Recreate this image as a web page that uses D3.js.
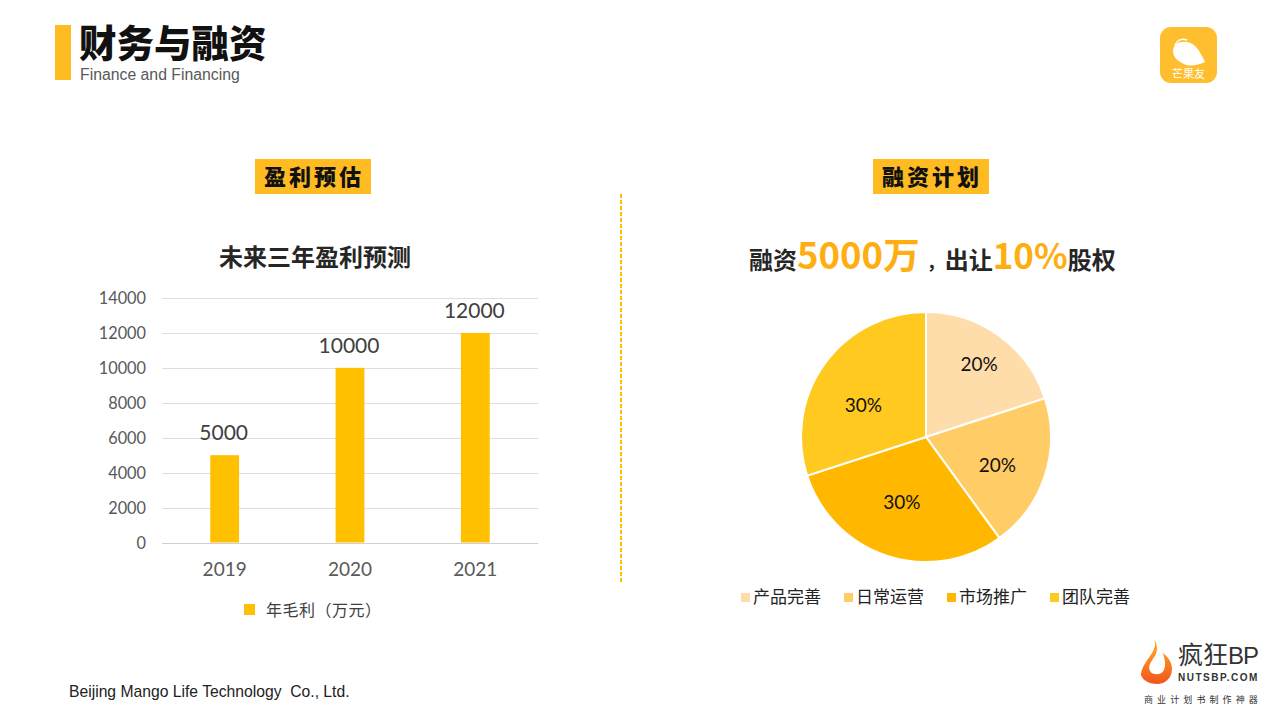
<!DOCTYPE html>
<html>
<head>
<meta charset="utf-8">
<script src="https://cdn.jsdelivr.net/npm/d3@7"></script>
<style>
  html, body { margin: 0; background: #fff; }
  svg { display: block; }
  text { font-family: "Noto Sans CJK SC", sans-serif; }
  .num { font-family: Lato, "Noto Sans CJK SC", sans-serif; }
  .latin { font-family: "Liberation Sans", sans-serif; }
</style>
</head>
<body>
<svg id="chart" width="1280" height="720"></svg>
<script>
const years = ['2019', '2020', '2021'];
const profit = [5000, 10000, 12000];
const profitTicks = [0, 2000, 4000, 6000, 8000, 10000, 12000, 14000];
const profitLegend = '年毛利（万元）';

const useNames = ['产品完善', '日常运营', '市场推广', '团队完善'];
const useShares = [20, 20, 30, 30];
const useColors = ['#FFDDAA', '#FFCC66', '#FFB700', '#FFC91F'];

const accent = '#FFBB22';
const svg = d3.select('#chart');

function label(g, x, y, str, size, fill, weight, anchor, cls) {
  return g.append('text')
    .attr('x', x).attr('y', y)
    .attr('font-size', size)
    .attr('fill', fill)
    .attr('font-weight', weight || 400)
    .attr('text-anchor', anchor || 'start')
    .attr('class', cls || null)
    .text(str);
}

// header
svg.append('rect').attr('x', 55).attr('y', 25).attr('width', 16).attr('height', 55).attr('fill', accent);
label(svg, 79, 57, '财务与融资', 37.5, '#111', 900);
label(svg, 80, 80, 'Finance and Financing', 15.8, '#595959', 400, 'start', 'latin');
label(svg, 69, 697, 'Beijing Mango Life Technology  Co., Ltd.', 15.7, '#222', 400, 'start', 'latin').style('white-space', 'pre');

// section tags
svg.append('rect').attr('x', 255).attr('y', 159).attr('width', 116).attr('height', 35).attr('fill', accent);
label(svg, 314, 185, '盈利预估', 22, '#111', 900, 'middle').attr('letter-spacing', 3);
svg.append('rect').attr('x', 873).attr('y', 159).attr('width', 116).attr('height', 35).attr('fill', accent);
label(svg, 932, 185, '融资计划', 22, '#111', 900, 'middle').attr('letter-spacing', 3);

// divider
svg.append('line').attr('x1', 621).attr('x2', 621).attr('y1', 194).attr('y2', 582)
  .attr('stroke', '#FFC000').attr('stroke-width', 2).attr('stroke-dasharray', '4 2');

// bar chart
label(svg, 315, 266, '未来三年盈利预测', 24, '#262626', 700, 'middle');

const x = d3.scaleBand().domain(years).range([162, 538]).paddingInner(0.77).paddingOuter(0.385);
const y = d3.scaleLinear().domain([0, 14000]).range([542.5, 298]);

svg.append('g').selectAll('line').data(profitTicks).join('line')
  .attr('x1', 162).attr('x2', 538)
  .attr('y1', d => Math.round(y(d)) + 0.5).attr('y2', d => Math.round(y(d)) + 0.5)
  .attr('stroke', d => d === 0 ? '#D0D0D0' : '#DEDEDE');

const yAxis = svg.append('g').attr('transform', 'translate(162,0.5)')
  .call(d3.axisLeft(y).tickValues(profitTicks).tickSize(0).tickPadding(16).tickFormat(d3.format('d')));
yAxis.select('.domain').remove();
yAxis.selectAll('text').attr('class', 'num').attr('font-size', 16.3).attr('fill', '#595959');

const xAxis = svg.append('g').attr('transform', 'translate(0,542.5)')
  .call(d3.axisBottom(x).tickSize(0).tickPadding(20));
xAxis.select('.domain').remove();
xAxis.selectAll('text').attr('class', 'num').attr('font-size', 19).attr('fill', '#595959');

svg.append('g').selectAll('rect').data(profit).join('rect')
  .attr('x', (d, i) => x(years[i]))
  .attr('width', x.bandwidth())
  .attr('y', d => y(d))
  .attr('height', d => y(0) - y(d))
  .attr('fill', '#FFC000');

svg.append('g').selectAll('text').data(profit).join('text')
  .attr('class', 'num')
  .attr('x', (d, i) => x(years[i]) + x.bandwidth() / 2 - 1)
  .attr('y', d => y(d) - 15)
  .attr('text-anchor', 'middle')
  .attr('font-size', 21)
  .attr('fill', '#404040')
  .text(d => d);

svg.append('rect').attr('x', 244).attr('y', 604).attr('width', 11).attr('height', 11).attr('fill', '#FFC000');
label(svg, 266, 616, profitLegend, 16, '#404040').attr('letter-spacing', 0.5);

// funding headline
const headline = svg.append('text').attr('x', 749).attr('y', 269).attr('fill', '#262626').attr('font-weight', 700).attr('font-size', 24);
headline.append('tspan').text('融资');
headline.append('tspan').attr('font-size', 36.5).attr('fill', '#FFAE12').text('5000万');
headline.append('tspan').attr('font-size', 18).attr('dx', 7).text('，');
headline.append('tspan').text('出让');
headline.append('tspan').attr('font-size', 35).attr('fill', '#FFAE12').text('10%');
headline.append('tspan').text('股权');

// pie
const pieG = svg.append('g').attr('transform', 'translate(926,437)');
const pie = d3.pie().sort(null).value(d => d);
const arc = d3.arc().innerRadius(0).outerRadius(125);
const slices = pie(useShares);

pieG.selectAll('path').data(slices).join('path')
  .attr('d', arc)
  .attr('fill', (d, i) => useColors[i])
  .attr('stroke', '#fff')
  .attr('stroke-width', 2);

// data labels were nudged by hand in the original
const labelArc = d3.arc().innerRadius(0).outerRadius(150);
const labelNudge = [[9, -12], [0, 5], [-1, -6], [-2, 12]];
pieG.selectAll('text').data(slices).join('text')
  .attr('class', 'num')
  .attr('transform', (d, i) => {
    const [cx, cy] = labelArc.centroid(d);
    return `translate(${cx + labelNudge[i][0]},${cy + labelNudge[i][1]})`;
  })
  .attr('dy', '0.36em')
  .attr('text-anchor', 'middle')
  .attr('font-size', 19)
  .attr('fill', '#111')
  .text(d => d.data + '%');

// pie legend
const legendX = d3.scalePoint().domain(useNames).range([742, 1051]);
const legend = svg.append('g').selectAll('g').data(useNames).join('g')
  .attr('transform', d => `translate(${legendX(d)},0)`);
legend.append('rect').attr('x', -1).attr('y', 593).attr('width', 9).attr('height', 9).attr('fill', (d, i) => useColors[i]);
legend.append('text').attr('x', 11).attr('y', 603).attr('font-size', 17).attr('fill', '#222').text(d => d);

// mango logo
const logo = svg.append('g').attr('transform', 'translate(1160,27)');
logo.append('rect').attr('width', 57).attr('height', 56).attr('rx', 11).attr('fill', '#FFBE2E');
logo.append('path').attr('d', 'M13 24 C13 17 20 14 27 15 C35 16 40 24 45 35 C37 39 28 40 22 36 C16 33 13 29 13 24 Z').attr('fill', '#fff');
logo.append('path').attr('d', 'M15 18 C17 13 22 11 27 13').attr('fill', 'none').attr('stroke', '#fff').attr('stroke-width', 1.5);
label(logo, 28.5, 51, '芒果友', 11, '#fff', 400, 'middle');

// nutsbp logo
const nuts = svg.append('g');
const flame = nuts.append('defs').append('linearGradient').attr('id', 'flame').attr('x1', 0).attr('y1', 0).attr('x2', 0).attr('y2', 1);
flame.append('stop').attr('offset', '0').attr('stop-color', '#FFB52E');
flame.append('stop').attr('offset', '1').attr('stop-color', '#F2541B');
nuts.append('path')
  .attr('d', 'M1154 639 C1157 646 1153 652 1148 659 C1143 666 1141 671 1141 675 C1143 681 1150 684 1157 684 C1165 684 1172 678 1172 669 C1172 662 1168 657 1163 653 C1165 660 1166 665 1164 670 C1162 675 1153 676 1150 671 C1147 665 1153 660 1156 654 C1158 649 1157 643 1154 639 Z')
  .attr('fill', 'url(#flame)');
label(nuts, 1178, 664, '疯狂', 25, '#333');
label(nuts, 1228, 664, 'BP', 24, '#333', 400, 'start', 'latin').attr('letter-spacing', -1);
label(nuts, 1178, 681, 'NUTSBP.COM', 10, '#333', 700, 'start', 'latin').attr('letter-spacing', 1.5);
label(nuts, 1144, 703, '商业计划书制作神器', 9, '#333').attr('letter-spacing', 4.1);
</script>
</body>
</html>
